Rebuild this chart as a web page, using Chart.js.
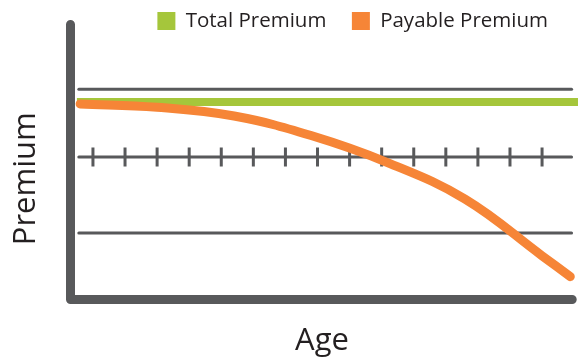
<!DOCTYPE html>
<html>
<head>
<meta charset="utf-8">
<script src="https://cdn.jsdelivr.net/npm/chart.js@4/dist/chart.umd.min.js"></script>
<style>
  html, body { margin: 0; padding: 0; background: #fff; }
  #wrap { width: 578px; height: 360px; position: relative; }
</style>
</head>
<body>
<div id="wrap"><canvas id="chart"></canvas></div>
<script>
// Series (age on x, premium level on y)
const totalAges = [17.5, 95.6];
const totalPremium = [71.8, 71.8];

const payableAges = [18, 30, 42, 54, 66, 78, 90, 94.4];
const payablePremium = [71.1, 69.9, 66.7, 59.6, 49.7, 36.5, 15.9, 8.3];

// reference lines and the tick marks sitting on the middle one
const guideLevels = [24.2, 51.8, 76.4];
const guideSpan = [17.8, 94.6];
const tickAges = [20, 25, 30, 35, 40, 45, 50, 55, 60, 65, 70, 75, 80, 85, 90];
const tickLevel = 51.8;

// axis frame (L shape)
const ageMin = 16.5;
const ageMax = 94.9;
const axisEnd = 94.7;
const premiumMax = 87.8;
const axisTop = 100;

const axisColor = '#58595b';
const textColor = '#231f20';
const font = 'Open Sans';

const datasets = [
  {
    label: 'Total Premium',
    data: totalAges.map((a, i) => ({ x: a, y: totalPremium[i] })),
    borderColor: '#a5c63b',
    backgroundColor: '#a5c63b',
    borderWidth: 8,
    pointRadius: 0,
    order: 1,
    clip: false
  },
  {
    label: 'Payable Premium',
    data: payableAges.map((a, i) => ({ x: a, y: payablePremium[i] })),
    borderColor: '#f68537',
    backgroundColor: '#f68537',
    borderWidth: 9,
    borderCapStyle: 'round',
    borderJoinStyle: 'round',
    tension: 0.4,
    pointRadius: 0,
    order: 0,
    clip: false
  },
  {
    label: 'ticks',
    data: tickAges.map(a => ({ x: a, y: tickLevel })),
    showLine: false,
    pointStyle: 'line',
    pointRotation: 90,
    pointRadius: 9.5,
    pointBorderWidth: 3,
    pointBorderColor: axisColor,
    order: 3
  },
  {
    label: 'axes',
    data: [{ x: ageMin, y: axisTop }, { x: ageMin, y: 0 }, { x: axisEnd, y: 0 }],
    borderColor: axisColor,
    borderWidth: 9,
    borderCapStyle: 'round',
    borderJoinStyle: 'round',
    pointRadius: 0,
    order: 2,
    clip: false
  }
];

guideLevels.forEach(level => {
  datasets.push({
    label: 'guide',
    data: guideSpan.map(a => ({ x: a, y: level })),
    borderColor: axisColor,
    borderWidth: 3,
    borderCapStyle: 'round',
    pointRadius: 0,
    order: 4,
    clip: false
  });
});

const hidden = {
  grid: { display: false, drawTicks: false },
  border: { display: false },
  ticks: { display: false }
};

new Chart(document.getElementById('chart'), {
  type: 'line',
  data: { datasets: datasets },
  options: {
    responsive: true,
    maintainAspectRatio: false,
    animation: false,
    events: [],
    layout: {
      autoPadding: false,
      padding: { left: 4, right: 4.5, top: -14.75, bottom: 0 }
    },
    plugins: {
      tooltip: { enabled: false },
      legend: {
        position: 'top',
        align: 'end',
        labels: {
          boxWidth: 18,
          boxHeight: 18,
          padding: 25.5,
          color: textColor,
          font: { family: font, size: 20.5 },
          generateLabels: chart =>
            Chart.defaults.plugins.legend.labels.generateLabels(chart)
              .map(item => Object.assign(item, { lineWidth: 0 })),
          filter: item => item.datasetIndex < 2,
          sort: (a, b) => a.datasetIndex - b.datasetIndex
        }
      }
    },
    scales: {
      x: {
        type: 'linear',
        min: ageMin,
        max: ageMax,
        ...hidden,
        title: {
          display: true,
          text: 'Age',
          color: textColor,
          font: { family: font, size: 31 },
          padding: { top: 23.3, bottom: 0 }
        }
      },
      // spacer between legend and plot
      xTop: {
        type: 'linear',
        position: 'top',
        min: ageMin,
        max: ageMax,
        ...hidden,
        afterFit: scale => { scale.height = 16.75; }
      },
      y: {
        min: 0,
        max: premiumMax,
        ...hidden,
        title: {
          display: true,
          text: 'Premium',
          color: textColor,
          font: { family: font, size: 31 },
          padding: { top: 4, bottom: 25.3 }
        }
      }
    }
  }
});
</script>
</body>
</html>
